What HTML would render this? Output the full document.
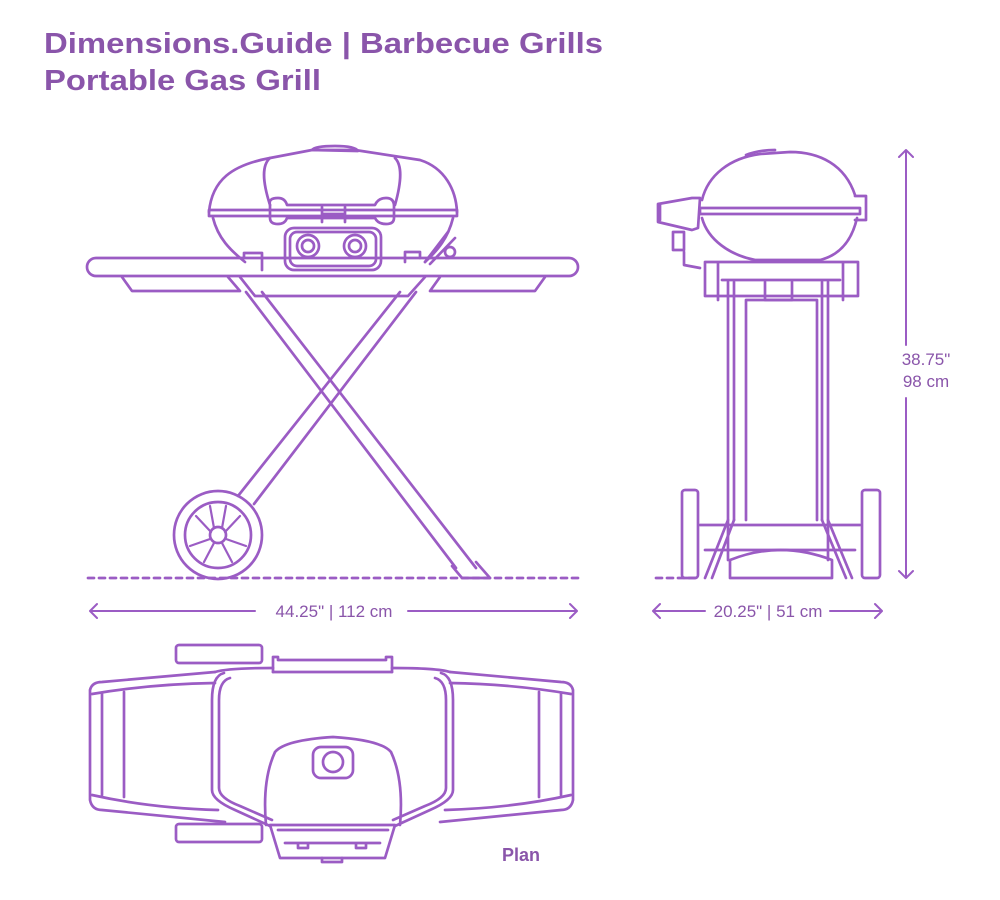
<!DOCTYPE html>
<html><head><meta charset="utf-8"><style>
html,body{margin:0;padding:0;background:#fff;}
svg{display:block;}
</style></head><body>
<svg width="1000" height="900" viewBox="0 0 1000 900" xmlns="http://www.w3.org/2000/svg">
<g font-family="Liberation Sans, sans-serif" fill="#8a55aa" font-weight="bold">
<text x="44" y="53" font-size="29" textLength="559" lengthAdjust="spacingAndGlyphs">Dimensions.Guide | Barbecue Grills</text>
<text x="44" y="90" font-size="29" textLength="277" lengthAdjust="spacingAndGlyphs">Portable Gas Grill</text>
<text x="502" y="861" font-size="18">Plan</text>
</g>
<g font-family="Liberation Sans, sans-serif" fill="#8a55aa" font-size="17">
<text x="334" y="617" text-anchor="middle">44.25" | 112 cm</text>
<text x="768" y="617" text-anchor="middle">20.25" | 51 cm</text>
<text x="926" y="365" text-anchor="middle">38.75"</text>
<text x="926" y="387" text-anchor="middle">98 cm</text>
</g>
<g fill="none" stroke="#9b5cc4" stroke-width="2.7" stroke-linecap="round" stroke-linejoin="round">
<path d="M90 611H255M408 611H577M97 604L90 611L97 618M570 604L577 611L570 618" stroke-width="2"/>
<path d="M653 611H705M830 611H882M660 604L653 611L660 618M875 604L882 611L875 618" stroke-width="2"/>
<path d="M906 150V345M906 398V578M899 157L906 150L913 157M899 571L906 578L913 571" stroke-width="2"/>
<path d="M88 578H578" stroke-dasharray="6 5"/>
<path d="M656 578H700" stroke-dasharray="6 5"/>

<!-- FRONT VIEW -->
<path d="M209 212C212 180 232 165 270 158L312 150H355L420 160C445 168 456 190 457 212"/>
<path d="M270 205C262 180 262 165 270 158M395 205C402 180 402 165 395 158"/>
<path d="M312 150Q315 146 335 146Q355 146 358 151Z"/>
<path d="M209 210H457V216H209Z"/>
<path d="M270 205Q268 198 278 198Q285 198 287 205H375Q378 198 386 198Q394 198 394 206V218Q394 224 386 224Q378 224 375 218H287Q285 224 278 224Q270 224 270 218Z"/>
<path d="M322 207V222M345 207V222M322 214H345"/>
<path d="M213 218C218 238 230 250 245 262M453 218C448 238 438 250 425 262"/>
<rect x="285" y="228" width="96" height="42" rx="9"/>
<rect x="290" y="232" width="86" height="34" rx="7"/>
<circle cx="308" cy="246" r="11"/><circle cx="308" cy="246" r="6"/>
<circle cx="355" cy="246" r="11"/><circle cx="355" cy="246" r="6"/>
<path d="M244 258V253H262V262M262 258V270M405 262V252H420V258"/>
<path d="M425 262L448 232M430 264L455 238"/><circle cx="450" cy="252" r="5"/>
<rect x="87" y="258" width="491" height="18" rx="9"/>
<path d="M122 277L132 291H240L228 277M545 277L535 291H430L440 277"/>
<path d="M240 277L255 296H408L425 277"/>
<!-- legs -->
<path d="M246 292L456 568M262 292L476 568"/>
<path d="M452 566L462 578H490L476 562"/>
<path d="M400 292L238 496M416 292L254 504"/>
<circle cx="218" cy="535" r="44"/><circle cx="218" cy="535" r="33"/><circle cx="218" cy="535" r="8"/>
<path d="M214 528L210 506M222 528L226 506M225 532L240 516M226 539L246 546M222 543L232 562M214 543L204 562M210 539L190 546M211 532L196 516" stroke-width="2.2"/>

<!-- SIDE VIEW -->
<path d="M702 200C708 175 730 158 760 154L790 152C820 152 845 165 855 195"/>
<path d="M746 155Q758 150 775 150"/>
<path d="M700 208H860V214H700Z"/>
<path d="M702 218C708 240 730 255 755 260H820C840 255 852 240 857 218"/>
<path d="M700 198L698 228L692 230L658 222V204L692 198Z"/>
<path d="M660 205V220"/>
<path d="M855 196H866V220H855"/>
<path d="M673 232H684V250H673ZM684 252V265L700 268"/>
<path d="M705 262H858V296H705ZM718 262V300M843 262V300"/>
<path d="M722 280H840"/>
<path d="M728 282V560M734 282V520M828 282V560M822 282V520"/>
<path d="M746 300V520M817 300V520M746 300H817"/>
<path d="M765 282V300H792V282"/>
<path d="M700 525H860M705 550H855"/>
<path d="M728 520L705 578M734 520L712 578M828 520L852 578M822 520L846 578"/>
<path d="M730 578V560Q780 540 832 560V578Z"/>
<rect x="682" y="490" width="16" height="88" rx="3"/>
<rect x="862" y="490" width="18" height="88" rx="3"/>

<!-- PLAN VIEW -->
<rect x="176" y="645" width="86" height="18" rx="3"/>
<rect x="176" y="824" width="86" height="18" rx="3"/>
<path d="M273 672V657H278V660H386V657H392V672"/>
<path d="M273 672H392"/>
<path d="M90 690Q92 682 102 682L215 672M90 690V800Q92 810 102 810L225 822"/>
<path d="M92 694Q150 684 215 683M92 795Q150 808 218 810"/>
<path d="M102 694V795M124 692V797"/>
<path d="M573 690Q571 682 561 682L450 672M573 690V800Q571 810 561 810L440 822"/>
<path d="M571 694Q513 684 450 683M571 795Q513 808 445 810"/>
<path d="M561 694V795M539 692V797"/>
<path d="M215 672Q228 668 273 668M392 668Q437 668 450 672"/>
<path d="M224 673Q212 676 212 700V790Q212 800 235 810L270 826M441 673Q453 676 453 700V790Q453 800 430 810L395 826"/>
<path d="M230 678Q219 681 219 700V788Q219 798 240 806L272 820M435 678Q446 681 446 700V788Q446 798 425 806L393 820"/>
<path d="M266 825Q262 780 275 752Q285 740 333 737Q381 740 391 752Q404 780 400 825"/>
<rect x="313" y="747" width="40" height="31" rx="8"/><circle cx="333" cy="762" r="10"/>
<path d="M270 825L280 858H385L395 825Z"/>
<path d="M278 830H388M285 843H380M298 843V848H308V843M356 843V848H366V843M322 858V862H342V858"/>
</g>
</svg>
</body></html>
